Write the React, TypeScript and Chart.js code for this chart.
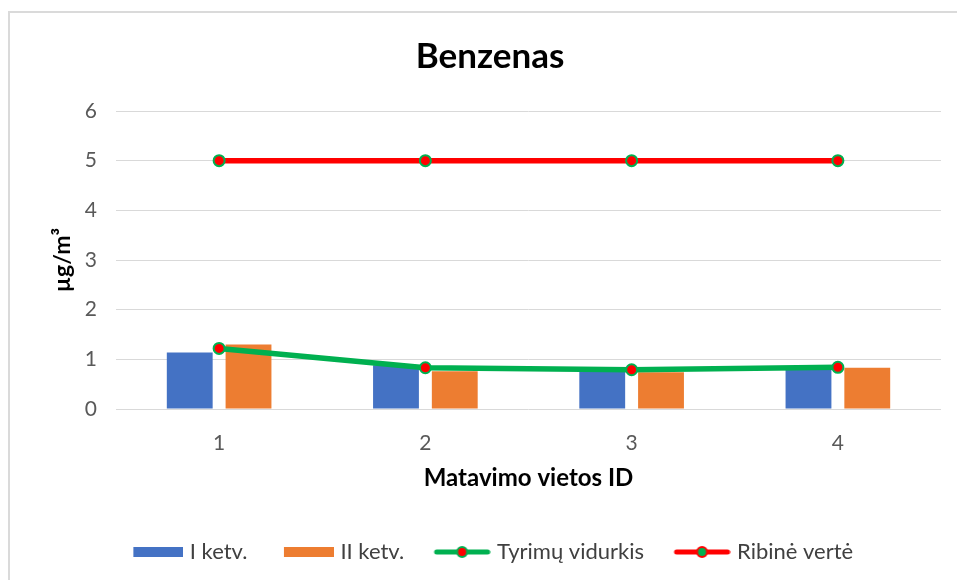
import React, { useEffect, useRef } from "react";
import { Chart, registerables } from "chart.js";

Chart.register(...registerables);

const categories = ["1", "2", "3", "4"];
const quarter1 = [1.14, 0.88, 0.8, 0.82];
const quarter2 = [1.3, 0.76, 0.74, 0.83];
const average = [1.22, 0.83, 0.79, 0.84];
const limitValue = [5, 5, 5, 5];
const seriesNames = ["I ketv.", "II ketv.", "Tyrimų vidurkis", "Ribinė vertė"];
const yMin = 0;
const yMax = 6;
const yStep = 1;
const chartTitle = "Benzenas";
const xTitle = "Matavimo vietos ID";
const yTitle = "µg/m³";

const BLUE = "#4472C4";
const ORANGE = "#ED7D31";
const GREEN = "#00B050";
const RED = "#FF0000";
const FONT = "Lato, 'Open Sans', sans-serif";

const ICON_W = 61;
const ICON_H = 16;

function barIcon(color: string) {
  const c = document.createElement("canvas");
  c.width = ICON_W;
  c.height = ICON_H;
  const x = c.getContext("2d")!;
  x.fillStyle = color;
  x.fillRect(ICON_W - 50, 3, 50, 10);
  return c;
}

function lineIcon(lineColor: string, fill: string, ring: string) {
  const c = document.createElement("canvas");
  c.width = ICON_W;
  c.height = ICON_H;
  const x = c.getContext("2d")!;
  const left = ICON_W - 57;
  x.strokeStyle = lineColor;
  x.lineWidth = 5;
  x.lineCap = "round";
  x.beginPath();
  x.moveTo(left + 3, 8);
  x.lineTo(ICON_W - 3, 8);
  x.stroke();
  x.beginPath();
  x.arc(left + 28.5, 8, 5, 0, Math.PI * 2);
  x.fillStyle = fill;
  x.fill();
  x.lineWidth = 2;
  x.strokeStyle = ring;
  x.stroke();
  return c;
}

export default function App() {
  const ref = useRef<HTMLCanvasElement>(null);

  useEffect(() => {
    if (!ref.current) return;
    const icons = [
      barIcon(BLUE),
      barIcon(ORANGE),
      lineIcon(GREEN, RED, GREEN),
      lineIcon(RED, GREEN, RED),
    ];
    const chart = new Chart(ref.current, {
      type: "bar",
      data: {
        labels: categories,
        datasets: [
          {
            type: "bar",
            label: seriesNames[0],
            data: quarter1,
            backgroundColor: BLUE,
            order: 2,
            barPercentage: 0.78,
            categoryPercentage: 0.57,
          },
          {
            type: "bar",
            label: seriesNames[1],
            data: quarter2,
            backgroundColor: ORANGE,
            order: 2,
            barPercentage: 0.78,
            categoryPercentage: 0.57,
          },
          {
            type: "line",
            label: seriesNames[2],
            data: average,
            borderColor: GREEN,
            borderWidth: 5.5,
            pointRadius: 5.5,
            pointBorderWidth: 2,
            pointBackgroundColor: RED,
            pointBorderColor: GREEN,
            order: 0,
            tension: 0,
          },
          {
            type: "line",
            label: seriesNames[3],
            data: limitValue,
            borderColor: RED,
            borderWidth: 5.5,
            pointRadius: 5.5,
            pointBorderWidth: 2,
            pointBackgroundColor: RED,
            pointBorderColor: GREEN,
            order: 0,
            tension: 0,
          },
        ] as any,
      },
      options: {
        animation: false,
        responsive: false,
        layout: { padding: { left: 0, right: 0, top: 0, bottom: 7 } },
        plugins: {
          tooltip: { enabled: false },
          title: {
            display: true,
            text: chartTitle,
            color: "#000000",
            font: { family: FONT, size: 35, weight: "bold", lineHeight: 1.2 },
            padding: { top: 24.5, bottom: 33.5 },
          },
          legend: {
            position: "bottom",
            labels: {
              usePointStyle: true,
              pointStyleWidth: 52,
              padding: 30,
              color: "#404040",
              font: { family: FONT, size: 22 },
              generateLabels: () =>
                seriesNames.map((name, i) => ({
                  text: name,
                  pointStyle: icons[i] as any,
                  fillStyle: "transparent",
                  strokeStyle: "transparent",
                  lineWidth: 0,
                  hidden: false,
                  datasetIndex: i,
                  fontColor: "#404040",
                })),
            },
          },
        },
        scales: {
          x: {
            grid: { display: false },
            border: { display: false },
            ticks: {
              color: "#595959",
              font: { family: FONT, size: 21 },
              padding: 14,
            },
            title: {
              display: true,
              text: xTitle,
              color: "#000000",
              font: { family: FONT, size: 24, weight: "bold", lineHeight: 1.2 },
              padding: { top: 0, bottom: 18.6 },
            },
            afterFit: (s: any) => {
              s.height = 102;
            },
          },
          y: {
            min: yMin,
            max: yMax,
            ticks: {
              stepSize: yStep,
              color: "#595959",
              font: { family: FONT, size: 21 },
              padding: 19,
            },
            grid: { color: "#d9d9d9", lineWidth: 1, drawTicks: false },
            border: { display: false },
            title: {
              display: true,
              text: yTitle,
              color: "#000000",
              font: { family: FONT, size: 23, weight: "bold", lineHeight: 1.2 },
              padding: { top: 41.2, bottom: 0 },
            },
            afterFit: (s: any) => {
              s.width = 108;
            },
          },
          yRight: {
            position: "right",
            display: true,
            grid: { display: false },
            border: { display: false },
            ticks: { display: false },
            afterFit: (s: any) => {
              s.width = 31;
            },
          },
        },
      } as any,
    });
    return () => chart.destroy();
  }, []);

  return (
    <div
      style={{
        position: "fixed",
        left: 0,
        top: 0,
        width: 957,
        height: 580,
        overflow: "hidden",
        background: "#ffffff",
      }}
    >
      <div
        style={{
          position: "absolute",
          left: 8,
          top: 11,
          width: 1000,
          height: 1000,
          border: "2px solid #dadada",
          boxSizing: "border-box",
        }}
      />
      <canvas
        ref={ref}
        width={964}
        height={569}
        style={{ position: "absolute", left: 8, top: 11, width: 964, height: 569 }}
      />
    </div>
  );
}
